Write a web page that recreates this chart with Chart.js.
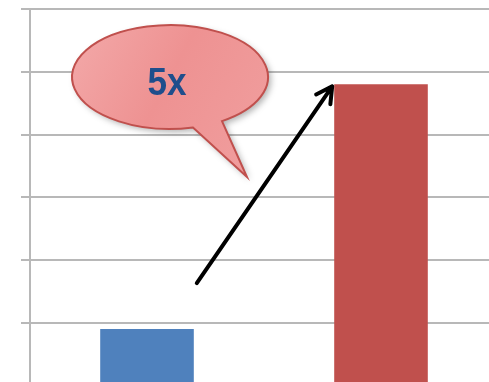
<!DOCTYPE html>
<html>
<head>
<meta charset="utf-8">
<script src="https://cdn.jsdelivr.net/npm/chart.js@4/dist/chart.umd.min.js"></script>
<style>
  html, body { margin: 0; padding: 0; background: #ffffff; overflow: hidden; }
  #wrap { width: 489px; height: 382px; overflow: hidden; position: relative; }
  canvas { position: absolute; left: 0; top: 0; }
</style>
</head>
<body>
<div id="wrap"><canvas id="c" width="500" height="400"></canvas></div>
<script>
// Two-period comparison
const categories = ['Before', 'After'];
const values = [0.9, 4.8];
const barColors = ['#4f81bd', '#c0504d'];
const yTicks = [0, 1, 2, 3, 4, 5, 6];
const calloutText = '5x';

// Speech bubble and growth arrow drawn on top of the bars
const calloutPlugin = {
  id: 'callout',
  afterDatasetsDraw(chart) {
    const ctx = chart.ctx;
    const area = chart.chartArea;
    const bars = chart.getDatasetMeta(0).data;
    const low = bars[0].getProps(['x', 'y', 'width'], true);
    const high = bars[1].getProps(['x', 'y', 'width'], true);

    // arrow from beside the small bar up to the tall bar's corner
    const x0 = low.x + low.width / 2 + 3, y0 = low.y - 46;
    const x1 = high.x - high.width / 2 - 2, y1 = high.y + 2;
    ctx.save();
    ctx.strokeStyle = '#000000';
    ctx.lineWidth = 4;
    ctx.lineCap = 'round';
    ctx.lineJoin = 'round';
    ctx.beginPath();
    ctx.moveTo(x0, y0);
    ctx.lineTo(x1, y1);
    const ang = Math.atan2(y1 - y0, x1 - x0);
    const head = 18, spread = 0.5;
    ctx.moveTo(x1 - head * Math.cos(ang - spread), y1 - head * Math.sin(ang - spread));
    ctx.lineTo(x1, y1);
    ctx.lineTo(x1 - head * Math.cos(ang + spread), y1 - head * Math.sin(ang + spread));
    ctx.stroke();
    ctx.restore();

    // bubble: ellipse with a tail pointing down-right
    const cx = area.left + 140, cy = area.top + 68, rx = 98, ry = 52;
    const tipX = cx + 77, tipY = cy + 100;
    const aLeft = Math.acos(23 / rx), aRight = Math.acos(52 / rx);
    ctx.save();
    ctx.beginPath();
    ctx.moveTo(tipX, tipY);
    ctx.lineTo(cx + rx * Math.cos(aLeft), cy + ry * Math.sin(aLeft));
    ctx.ellipse(cx, cy, rx, ry, 0, aLeft, aRight + Math.PI * 2, false);
    ctx.closePath();
    const grad = ctx.createLinearGradient(cx - rx, cy - ry, cx + rx, cy + ry);
    grad.addColorStop(0, '#f3a9a9');
    grad.addColorStop(0.5, '#ee9292');
    grad.addColorStop(1, '#f09d9d');
    ctx.fillStyle = grad;
    ctx.shadowColor = 'rgba(0,0,0,0.3)';
    ctx.shadowBlur = 6;
    ctx.shadowOffsetX = 3;
    ctx.shadowOffsetY = 3;
    ctx.fill();
    ctx.shadowColor = 'transparent';
    ctx.strokeStyle = '#c0504d';
    ctx.lineWidth = 2;
    ctx.stroke();

    // label, slightly condensed
    ctx.fillStyle = '#1f4e8c';
    ctx.font = 'bold 39px "Liberation Sans", Arial, sans-serif';
    ctx.textAlign = 'center';
    ctx.textBaseline = 'alphabetic';
    ctx.translate(cx - 3, cy + 18);
    ctx.scale(0.9, 1);
    ctx.fillText(calloutText, 0, 0);
    ctx.restore();
  }
};

new Chart(document.getElementById('c'), {
  type: 'bar',
  data: {
    labels: categories,
    datasets: [{
      data: values,
      backgroundColor: barColors,
      borderWidth: 0,
      categoryPercentage: 1.0,
      barPercentage: 0.4
    }]
  },
  options: {
    responsive: false,
    animation: false,
    events: [],
    layout: { padding: { left: 21, top: 9, right: 2, bottom: 14.5 } },
    plugins: { legend: { display: false }, tooltip: { enabled: false } },
    scales: {
      x: { display: false },
      y: {
        min: yTicks[0],
        max: yTicks[yTicks.length - 1],
        afterBuildTicks(scale) { scale.ticks = yTicks.map(v => ({ value: v })); },
        ticks: { display: false },
        grid: { color: '#b8b8b8', lineWidth: 2, drawTicks: true, tickLength: 9, tickColor: '#b8b8b8' },
        border: { display: true, color: '#b8b8b8', width: 2 }
      }
    }
  },
  plugins: [calloutPlugin]
});
</script>
</body>
</html>
